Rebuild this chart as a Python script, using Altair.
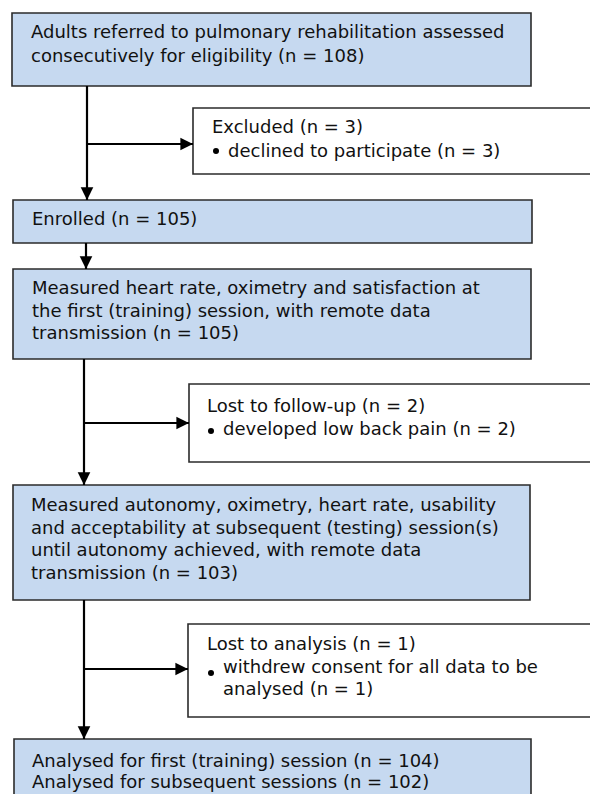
import altair as alt
import pandas as pd

# ---------------- content ----------------
main_text = [
    ["Adults referred to pulmonary rehabilitation assessed",
     "consecutively for eligibility (n = 108)"],
    ["Enrolled (n = 105)"],
    ["Measured heart rate, oximetry and satisfaction at",
     "the first (training) session, with remote data",
     "transmission (n = 105)"],
    ["Measured autonomy, oximetry, heart rate, usability",
     "and acceptability at subsequent (testing) session(s)",
     "until autonomy achieved, with remote data",
     "transmission (n = 103)"],
    ["Analysed for first (training) session (n = 104)",
     "Analysed for subsequent sessions (n = 102)"],
]
side_title = ["Excluded (n = 3)", "Lost to follow-up (n = 2)", "Lost to analysis (n = 1)"]
side_items = [
    ["declined to participate (n = 3)"],
    ["developed low back pain (n = 2)"],
    ["withdrew consent for all data to be", "analysed (n = 1)"],
]

# ---------------- layout (page pixels) ----------------
main_x0 = [12, 13, 13, 13, 14]
main_x1 = [531, 532, 531, 530, 531]
main_y0 = [13, 200, 269, 485, 739]
main_y1 = [86, 243, 359, 600, 815]
main_tx = [31, 32, 32, 31, 32]
main_ty = [33, 220, 289, 506, 762]
main_gap = [23.5, 22, 22.5, 22.5, 21]

side_x0 = [193, 189, 188]
side_x1 = [640, 640, 640]
side_y0 = [108, 384, 624]
side_y1 = [174, 462, 717]
side_tx = [212, 207, 207]
side_ty = [128, 407, 645]
bullet_x = [216, 211, 211]
bullet_y = [151, 431, 673]
item_x = [228, 223, 223]
item_y = [152, 430, 668]
item_gap = 22

trunk_x = [87, 86, 84, 84]
branch_y = [144, 423, 669]   # branch after trunk 0, 2, 3
branch_from = [0, 2, 3]

# ---------------- tables ----------------
main_df = pd.DataFrame({"x0": main_x0, "x1": main_x1, "y0": main_y0, "y1": main_y1})
side_df = pd.DataFrame({"x0": side_x0, "x1": side_x1, "y0": side_y0, "y1": side_y1})

rows = []
for i, lines in enumerate(main_text):
    for j, t in enumerate(lines):
        rows.append({"x": main_tx[i], "y": main_ty[i] + j * main_gap[i], "t": t})
for i, t in enumerate(side_title):
    rows.append({"x": side_tx[i], "y": side_ty[i], "t": t})
for i, lines in enumerate(side_items):
    for j, t in enumerate(lines):
        rows.append({"x": item_x[i], "y": item_y[i] + j * item_gap, "t": t})
text_df = pd.DataFrame(rows)

bullet_df = pd.DataFrame({"x": bullet_x, "y": bullet_y})

seg = []
for k, x in enumerate(trunk_x):
    seg.append({"x0": x, "x1": x, "y0": main_y1[k], "y1": main_y0[k + 1]})
for b, y in enumerate(branch_y):
    seg.append({"x0": trunk_x[branch_from[b]], "x1": side_x0[b], "y0": y, "y1": y})
seg_df = pd.DataFrame(seg)

down_df = pd.DataFrame({"x": trunk_x, "y": [main_y0[k + 1] for k in range(len(trunk_x))]})
right_df = pd.DataFrame({"x": side_x0, "y": branch_y})

# ---------------- chart ----------------
W, H = 582, 786
xs = alt.Scale(domain=[8, 8 + W], nice=False, zero=False)
ys = alt.Scale(domain=[8, 8 + H], nice=False, zero=False, reverse=True)

FILL = "#c6d9f0"
EDGE = "#2b2b2b"
FONT = "DejaVu Sans"
FS = 18

main_boxes = alt.Chart(main_df).mark_rect(fill=FILL, stroke=EDGE, strokeWidth=1.6).encode(
    x=alt.X("x0:Q", scale=xs, axis=None), x2="x1:Q",
    y=alt.Y("y0:Q", scale=ys, axis=None), y2="y1:Q")

side_boxes = alt.Chart(side_df).mark_rect(fill="white", stroke=EDGE, strokeWidth=1.6).encode(
    x=alt.X("x0:Q", scale=xs, axis=None), x2="x1:Q",
    y=alt.Y("y0:Q", scale=ys, axis=None), y2="y1:Q")

lines = alt.Chart(seg_df).mark_rule(color="black", strokeWidth=2.2).encode(
    x=alt.X("x0:Q", scale=xs, axis=None), x2="x1:Q",
    y=alt.Y("y0:Q", scale=ys, axis=None), y2="y1:Q")

down_heads = alt.Chart(down_df).mark_point(
    shape="M-1,-2L1,-2L0,0Z", filled=True, fill="black", stroke=None, size=160, opacity=1
).encode(x=alt.X("x:Q", scale=xs, axis=None), y=alt.Y("y:Q", scale=ys, axis=None))

right_heads = alt.Chart(right_df).mark_point(
    shape="M-2,-1L-2,1L0,0Z", filled=True, fill="black", stroke=None, size=160, opacity=1
).encode(x=alt.X("x:Q", scale=xs, axis=None), y=alt.Y("y:Q", scale=ys, axis=None))

bullets = alt.Chart(bullet_df).mark_point(
    shape="circle", filled=True, fill="black", stroke=None, size=36, opacity=1
).encode(x=alt.X("x:Q", scale=xs, axis=None), y=alt.Y("y:Q", scale=ys, axis=None))

texts = alt.Chart(text_df).mark_text(
    align="left", baseline="middle", font=FONT, fontSize=FS, color="#111111"
).encode(x=alt.X("x:Q", scale=xs, axis=None), y=alt.Y("y:Q", scale=ys, axis=None), text="t:N")

chart = alt.layer(side_boxes, main_boxes, lines, down_heads, right_heads, bullets, texts).properties(
    width=W, height=H, padding=0, autosize=alt.AutoSizeParams(type="none"),
    background="white",
).configure_view(stroke=None)

chart.save("out.html", embed_options={"renderer": "svg", "actions": False})
